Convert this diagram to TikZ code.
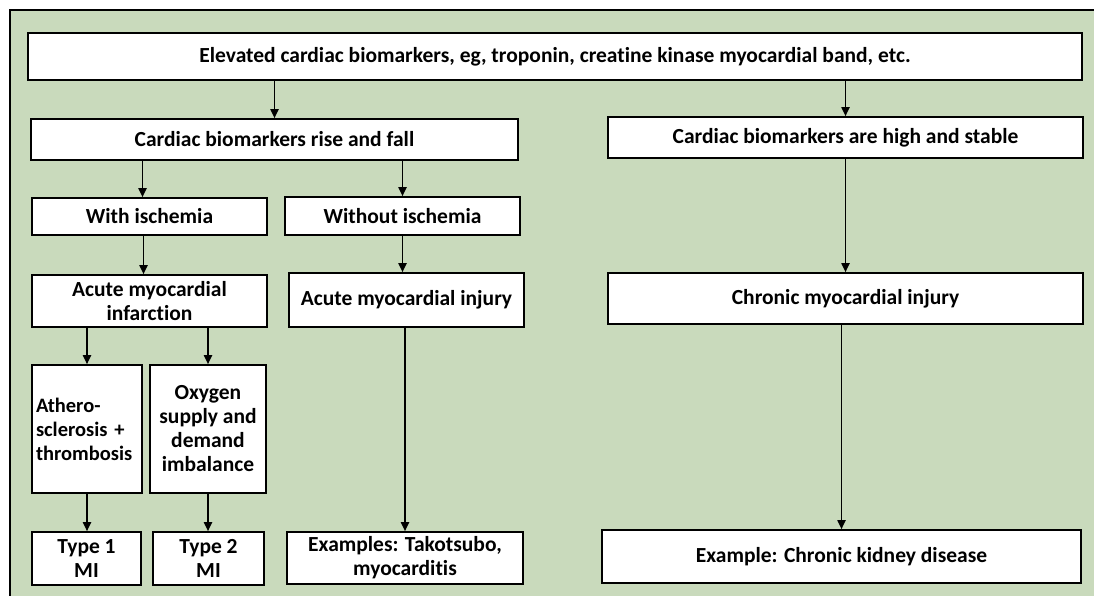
\documentclass[tikz,border=0pt]{standalone}
\usepackage{fontspec}
\setmainfont{Carlito}[Ligatures=NoCommon]
\usepackage{xcolor}
\usetikzlibrary{arrows,arrows.meta,positioning,shapes}
\definecolor{panelgreen}{RGB}{201,218,188}

\begin{document}
\begin{tikzpicture}[x=1pt, y=-1pt]
    \tikzstyle{block} = [rectangle, draw, line width=1.6pt, fill=white, text centered, inner sep=2pt, font=\bfseries\fontsize{21.5}{24}\selectfont]
    \tikzstyle{arrow} = [line width=1.8pt,->,>={Triangle[length=9pt,width=8pt]}]

    \useasboundingbox (0,0) rectangle (1094,596);
    \draw [line width=2pt, fill=panelgreen] (10,10) rectangle (1110,610);

    \node [block, minimum width=1054, minimum height=47] (elevated) at (555,56.5) {Elevated cardiac biomarkers, eg, troponin, creatine kinase myocardial band, etc.};
    \node [block, minimum width=487, minimum height=41] (risefall) at (274.5,139.5) {Cardiac biomarkers rise and fall};
    \node [block, minimum width=475, minimum height=41] (stable) at (845.5,137.5) {Cardiac biomarkers are high and stable};
    \node [block, minimum width=235, minimum height=37] (withisch) at (149.5,216.5) {With ischemia};
    \node [block, minimum width=235, minimum height=38] (withoutisch) at (402.5,216) {Without ischemia};
    \node [block, minimum width=235, minimum height=52, align=center] (ami) at (149.5,301) {Acute myocardial\\infarction};
    \node [block, minimum width=235, minimum height=54] (acuteinj) at (406.5,300) {Acute myocardial injury};
    \node [block, minimum width=475, minimum height=51] (chronicinj) at (845.5,298.5) {Chronic myocardial injury};
    \node [block, minimum width=110, minimum height=128, text width=102, align=left, font=\bfseries\fontsize{20.5}{24}\selectfont] (athero) at (87,429) {Athero-\\sclerosis +\\thrombosis};
    \node [block, minimum width=116, minimum height=128, align=center] (oxygen) at (208,429) {Oxygen\\supply and\\demand\\imbalance};
    \node [block, minimum width=109, minimum height=53, align=center] (type1) at (86.5,558.5) {Type 1\\MI};
    \node [block, minimum width=111, minimum height=53, align=center] (type2) at (208.5,558.5) {Type 2\\MI};
    \node [block, minimum width=236, minimum height=52, align=center] (examples) at (405,558) {Examples: Takotsubo,\\myocarditis};
    \node [block, minimum width=479, minimum height=53] (ckd) at (841.5,556.5) {Example: Chronic kidney disease};

    \draw [arrow] (elevated.south -| risefall) -- (risefall.north);
    \draw [arrow] (elevated.south -| stable) -- (stable.north);
    \draw [arrow] ([xshift=-7pt]risefall.south -| withisch) -- ([xshift=-7pt]withisch.north);
    \draw [arrow] (risefall.south -| withoutisch) -- (withoutisch.north);
    \draw [arrow] ([xshift=-6pt]withisch.south) -- ([xshift=-6pt]ami.north);
    \draw [arrow] (withoutisch.south) -- (withoutisch.south |- acuteinj.north);
    \draw [arrow] (ami.south -| athero) -- (athero.north);
    \draw [arrow] (ami.south -| oxygen) -- (oxygen.north);
    \draw [arrow] (athero.south) -- (athero.south |- type1.north);
    \draw [arrow] (oxygen.south) -- (oxygen.south |- type2.north);
    \draw [arrow] (acuteinj.south -| examples) -- (examples.north);
    \draw [arrow] (stable.south -| chronicinj) -- (chronicinj.north);
    \draw [arrow] (chronicinj.south -| ckd) -- (ckd.north);

\end{tikzpicture}
\end{document}
